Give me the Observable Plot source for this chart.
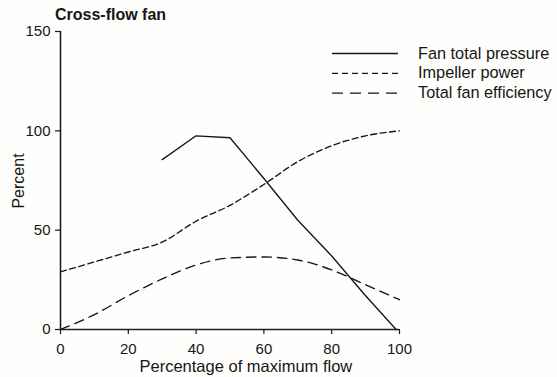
<!DOCTYPE html>
<html>
<head>
<meta charset="utf-8">
<script src="https://cdn.jsdelivr.net/npm/d3@7"></script>
<script src="https://cdn.jsdelivr.net/npm/@observablehq/plot@0.6"></script>
<style>
  html, body { margin: 0; padding: 0; background: #fefefc; }
  #wrap { position: relative; width: 557px; height: 377px; }
  #wrap svg { position: absolute; left: 0; top: 0; }
  #overlay { pointer-events: none; }
</style>
</head>
<body>
<div id="wrap"></div>
<script>
// Cross-flow fan characteristics, all values in percent of maximum
const titleText = "Cross-flow fan";
const xLabel = "Percentage of maximum flow";
const yLabel = "Percent";
const xTicks = [0, 20, 40, 60, 80, 100];
const yTicks = [0, 50, 100, 150];

const seriesNames = ["Fan total pressure", "Impeller power", "Total fan efficiency"];

const pressureFlow = [30, 40, 50, 60, 70, 80, 90, 99];
const pressureValues = [85.5, 97.5, 96.5, 76, 55, 37, 17, 0];

const powerFlow = [0, 10, 20, 30, 40, 50, 60, 70, 80, 90, 100];
const powerValues = [29, 34, 39, 44, 54.5, 62.5, 73, 84.5, 92.5, 97.5, 100];

const efficiencyFlow = [0, 10, 20, 30, 40, 50, 60, 70, 80, 90, 100];
const efficiencyValues = [0, 7.5, 17, 25.5, 32.5, 36, 36.5, 35, 30, 22.5, 15];

const ink = "#161616";
const font = "'Liberation Sans', Arial, Helvetica, sans-serif";

// line style per series: solid, short dashes, long dashes
const dashes = [null, "6,3.5", "9.5,6"];
const legendDashes = [null, "6,4", "11,7"];

const toRows = (xs, ys) => xs.map((x, i) => ({flow: x, value: ys[i]}));
const seriesData = [
  toRows(pressureFlow, pressureValues),
  toRows(powerFlow, powerValues),
  toRows(efficiencyFlow, efficiencyValues)
];

const W = 557, H = 377;
const margin = {left: 60, right: 158, top: 31, bottom: 48};

const chart = Plot.plot({
  width: W,
  height: H,
  marginLeft: margin.left,
  marginRight: margin.right,
  marginTop: margin.top,
  marginBottom: margin.bottom,
  x: {domain: [0, 100]},
  y: {domain: [0, 150]},
  style: {fontFamily: font, fontSize: "15px", color: ink, background: "transparent", overflow: "visible"},
  marks: [
    Plot.axisX({ticks: xTicks, tickSize: 5, tickPadding: 9, label: null, stroke: ink, strokeWidth: 1.2}),
    Plot.axisY({ticks: yTicks, tickSize: 5, tickPadding: 5, label: null, stroke: ink, strokeWidth: 1.2}),
    Plot.ruleY([0], {stroke: "#1c1c2a", strokeWidth: 1.5}),
    Plot.ruleX([0], {stroke: ink, strokeWidth: 1.5}),
    ...seriesData.map((rows, i) => Plot.line(rows, {
      x: "flow",
      y: "value",
      curve: i === 0 ? "linear" : "monotone-x",
      stroke: ink,
      strokeWidth: 1.35,
      strokeDasharray: dashes[i] ?? undefined
    }))
  ]
});
document.getElementById("wrap").appendChild(chart);

// Title, axis titles and legend drawn on a layer above the plot
const overlay = d3.select("#wrap").append("svg")
  .attr("id", "overlay")
  .attr("width", W)
  .attr("height", H)
  .style("font-family", font)
  .style("fill", ink);

overlay.append("text")
  .attr("x", 55).attr("y", 19.5)
  .style("font-size", "16px").style("font-weight", "bold")
  .text(titleText);

overlay.append("text")
  .attr("x", 139.5).attr("y", 371.5)
  .style("font-size", "16.5px")
  .text(xLabel);

overlay.append("text")
  .attr("transform", "translate(24,181) rotate(-90)")
  .attr("text-anchor", "middle")
  .style("font-size", "16px")
  .text(yLabel);

const legend = overlay.append("g");
seriesNames.forEach((name, i) => {
  const base = 58.5 + i * 19.8;
  legend.append("line")
    .attr("x1", 332).attr("x2", 398)
    .attr("y1", base - 5).attr("y2", base - 5)
    .attr("stroke", ink).attr("stroke-width", 1.3)
    .attr("stroke-dasharray", legendDashes[i]);
  legend.append("text")
    .attr("x", 418).attr("y", base)
    .style("font-size", "16.3px")
    .text(name);
});
</script>
</body>
</html>
